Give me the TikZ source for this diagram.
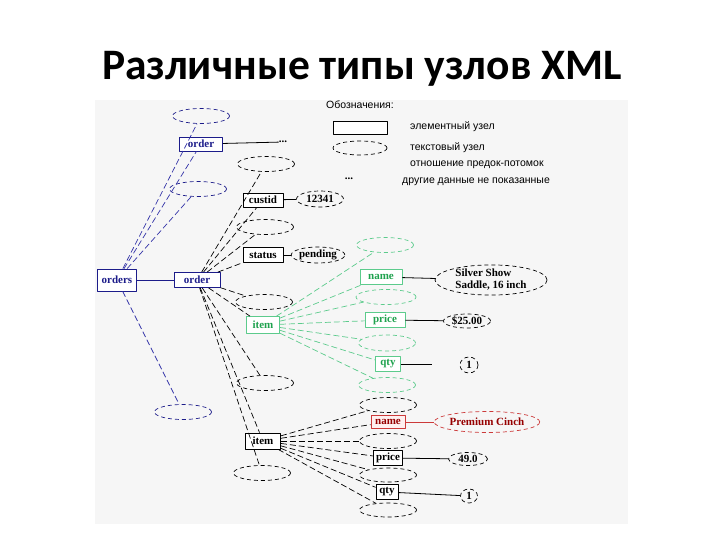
\documentclass[tikz,border=0pt]{standalone}
\usepackage{fontspec}
\setmainfont{Liberation Serif}
\newfontfamily\titlefont{Carlito}
\newfontfamily\legfont{Liberation Sans}
\usetikzlibrary{shapes.geometric}
\definecolor{navy}{HTML}{1C1C8A}
\definecolor{navyln}{HTML}{3434A8}
\definecolor{grn}{HTML}{1FA24E}
\definecolor{grnln}{HTML}{5CCB8C}
\definecolor{dred}{HTML}{960000}
\definecolor{redln}{HTML}{CC3A3A}
\definecolor{pane}{HTML}{F6F6F6}
\tikzset{
  every picture/.style={line cap=butt, line join=round},
  elem/.style={draw=#1, fill=white, text=#1, font=\bfseries\fontsize{11}{12}\selectfont,
    inner sep=2.5pt, minimum height=14pt, line width=0.8pt},
  elem/.default=black,
  txt/.style={ellipse, draw=#1, dash pattern=on 4pt off 3pt, line width=0.7pt,
    minimum width=57pt, minimum height=15pt, inner sep=0pt,
    font=\bfseries\fontsize{11}{12}\selectfont},
  txt/.default=black,
  rel/.style={draw=#1, line width=0.7pt, dash pattern=on 6pt off 3pt},
  rel/.default=black,
  lnk/.style={draw=#1, line width=0.8pt},
  lnk/.default=black,
  leg/.style={font=\legfont\fontsize{10.5}{12}\selectfont, anchor=west, inner sep=0pt},
  dots/.style={font=\bfseries\fontsize{11}{12}\selectfont, inner sep=0pt},
}
\begin{document}
\begin{tikzpicture}[x=1pt,y=-1pt]
  \useasboundingbox (0,0) rectangle (720,540);
  \node[font=\titlefont\bfseries\fontsize{43.5}{50}\selectfont] (title) at (362,69) {Различные типы узлов XML};
  \fill[pane] (95,100) rectangle (628,524);

  % ---------- legend ----------
  \node[leg, anchor=center] (legh) at (360,105) {Обозначения:};
  \node[elem, minimum width=54pt, minimum height=13pt] (legbox) at (360,128) {};
  \node[leg] (legbt) at (410,127) {элементный узел};
  \node[txt, minimum width=54pt, minimum height=14pt] (legell) at (360,148) {};
  \node[leg] (leget) at (410,148) {текстовый узел};
  \node[leg] (legrt) at (410,165) {отношение предок-потомок};
  \node[dots] (legdots) at (349,179) {...};
  \node[leg] (legdt) at (402,182) {другие данные не показанные};

  % ---------- root and orders ----------
  \node[elem=navy, minimum height=22pt, inner sep=4pt] (ords) at (117,280) {orders};
  \node[elem=navy, minimum width=43pt] (orda) at (201,144) {order};
  \node[elem=navy, minimum width=46pt, minimum height=15pt] (ordb) at (197,280) {order};
  \node[txt=navy] (ta) at (201,116) {};
  \node[txt=navy] (tb) at (198,189) {};
  \node[txt=navy] (tc) at (183,412) {};
  \node[dots] (dotsa) at (283,142) {...};
  \foreach \n in {ta,orda,tb,tc}{\draw[rel=navyln] (ords) -- (\n);}
  \draw[lnk=navy] (ords) -- (ordb);
  \draw[lnk] (orda) -- (dotsa);

  % ---------- children of order ----------
  \node[txt] (te4) at (266,164) {};
  \node[elem, minimum width=40pt] (cust) at (263,200) {custid};
  \node[txt, minimum width=47pt, minimum height=16pt] (v12341) at (320,199) {12341};
  \node[txt] (te5) at (265,227) {};
  \node[elem, minimum width=40pt, minimum height=15pt] (stat) at (263,255) {status};
  \node[txt, minimum width=50pt, minimum height=16pt] (pend) at (318,255) {pending};
  \node[txt] (te6) at (264,302) {};
  \node[elem=grn, draw=grnln, minimum width=33pt, minimum height=17pt] (itema) at (263,325) {item};
  \node[txt] (te7) at (265,383) {};
  \node[elem, minimum width=35pt, minimum height=16pt] (itemb) at (263,441) {item};
  \node[txt] (te8) at (262,473) {};
  \foreach \n in {te4,cust,te5,stat,te6,itema,te7,itemb,te8}{\draw[rel] (ordb) -- (\n);}
  \draw[lnk] (cust) -- (v12341);
  \draw[lnk] (stat) -- (pend);

  % ---------- first item (green) ----------
  \node[txt=grnln] (g1) at (385,245) {};
  \node[elem=grn, draw=grnln, minimum width=42pt, minimum height=15pt] (gname) at (381,277) {name};
  \node[txt, minimum width=112pt, minimum height=30pt, align=left] (silver) at (491,280) {Silver Show\\ Saddle, 16 inch};
  \node[txt=grnln, minimum width=60pt] (g2) at (386,297) {};
  \node[elem=grn, draw=grnln, minimum width=40pt, minimum height=15pt] (gprice) at (385,320) {price};
  \node[txt, minimum width=47pt, minimum height=14pt] (v2500) at (467,321) {\$25.00};
  \node[txt=grnln, minimum height=16pt] (g3) at (387,343) {};
  \node[elem=grn, draw=grnln, minimum width=25pt, minimum height=15pt] (gqty) at (388,364) {qty};
  \node[txt, minimum width=18pt, minimum height=16pt] (vonea) at (469,365) {1};
  \coordinate (qtyend) at (432,364);
  \node[txt=grnln] (g4) at (387,385) {};
  \foreach \n in {g1,gname,g2,gprice,g3,gqty,g4}{\draw[rel=grnln] (itema) -- (\n);}
  \draw[lnk] (gname) -- (silver);
  \draw[lnk] (gprice) -- (v2500);
  \draw[lnk] (gqty) -- (qtyend);

  % ---------- second item ----------
  \node[txt] (b1) at (388,405) {};
  \node[elem=dred, draw=redln, fill=red!6, minimum width=34pt, minimum height=13pt] (bname) at (388,422) {name};
  \node[txt=redln, text=dred, minimum width=103pt, minimum height=21pt] (cinch) at (487,422) {Premium Cinch};
  \node[txt] (b2) at (388,441) {};
  \node[elem, minimum width=29pt, minimum height=13pt] (bprice) at (388,458) {price};
  \node[txt, minimum width=39pt, minimum height=13pt] (v490) at (468,459) {49.0};
  \node[txt, minimum height=14pt] (b3) at (388,475) {};
  \node[elem, minimum width=22pt, minimum height=15pt] (bqty) at (387,492) {qty};
  \node[txt, minimum width=17pt, minimum height=14pt] (voneb) at (469,496) {1};
  \node[txt, minimum height=14pt] (b4) at (388,510) {};
  \foreach \n in {b1,bname,b2,bprice,b3,bqty,b4}{\draw[rel] (itemb) -- (\n);}
  \draw[lnk=redln] (bname) -- (cinch);
  \draw[lnk] (bprice) -- (v490);
  \draw[lnk] (bqty) -- (voneb);
\end{tikzpicture}
\end{document}
